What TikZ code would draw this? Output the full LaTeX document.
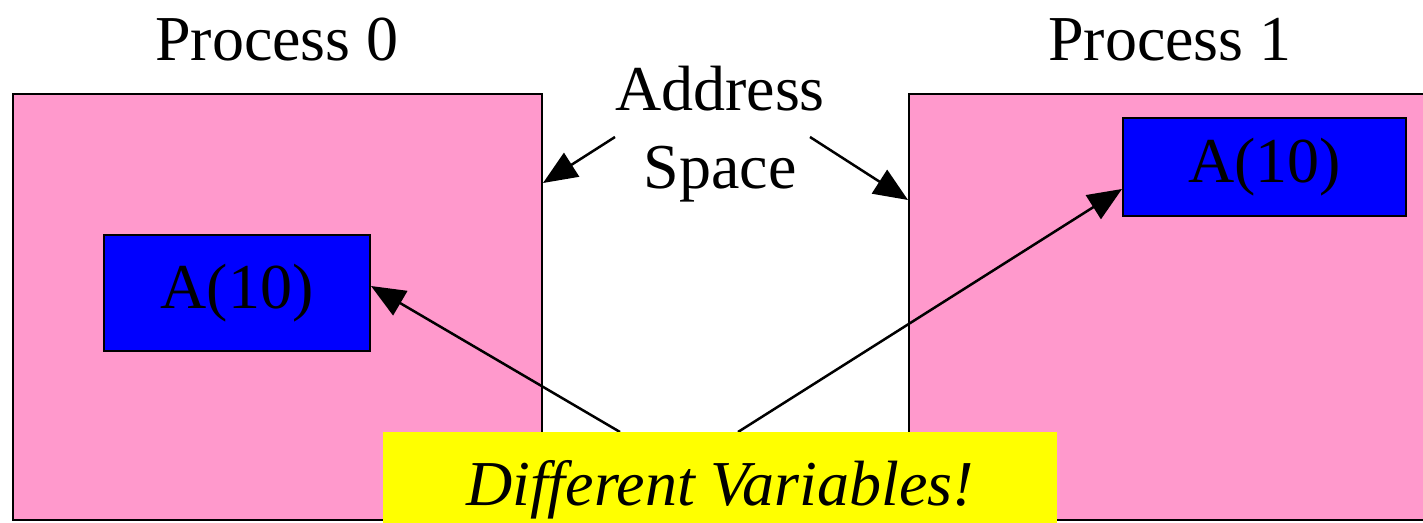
\documentclass[tikz,border=0pt]{standalone}
\usepackage{fontspec}
\setmainfont{Liberation Serif}
\usetikzlibrary{arrows.meta}
\definecolor{procpink}{HTML}{FF99CC}
\definecolor{varblue}{HTML}{0000FF}
\definecolor{noteyellow}{HTML}{FFFF00}
\begin{document}
\begin{tikzpicture}[x=1pt,y=-1pt,
  big/.style={font=\fontsize{64}{78}\selectfont},
  procbox/.style={draw=black,line width=2pt,fill=procpink,anchor=north west,inner sep=0pt},
  varbox/.style={draw=black,line width=2pt,fill=varblue,anchor=north west,inner sep=0pt,big},
  notebox/.style={fill=noteyellow,anchor=north west,inner sep=0pt},
  arr/.style={line width=2.5pt,-{Triangle[length=34pt,width=28pt]}}]
\useasboundingbox (0,0) rectangle (1423,522);
\fill[white] (0,0) rectangle (1423,522);
% process boxes
\node[procbox,minimum width=529pt,minimum height=426pt] (p0) at (12,93) {};
\node[procbox,minimum width=540pt,minimum height=426pt] (p1) at (908,93) {};
% titles
\node[big,anchor=base] (t0) at (277,60) {Process 0};
\node[big,anchor=base] (t1) at (1170,60) {Process 1};
% variables
\node[varbox,minimum width=266pt,minimum height=116pt] (a0) at (103,234) {A(10)};
\node[varbox,minimum width=283pt,minimum height=98pt] (a1) at (1122,117) {A(10)};
% address space label
\node[big,align=center,anchor=base] (as) at (720,188) {Address\\Space};
\coordinate (asL) at (615,137);
\coordinate (asR) at (810,137);
\draw[arr] (asL) -- ([yshift=-90pt]p0.north east);
\draw[arr] (asR) -- ([yshift=-107pt]p1.north west);
% note box
\node[notebox,minimum width=674pt,minimum height=95pt] (note) at (383,432) {};
\draw[arr] ([xshift=237pt]note.north west) -- ([yshift=7pt]a0.east);
\draw[arr] ([xshift=355pt]note.north west) -- ([yshift=-22pt]a1.west);
\fill[noteyellow] (note.north west) rectangle (note.south east);
\node[big,anchor=base] (nt) at (720,505) {\itshape Different Variables!};
\end{tikzpicture}
\end{document}
